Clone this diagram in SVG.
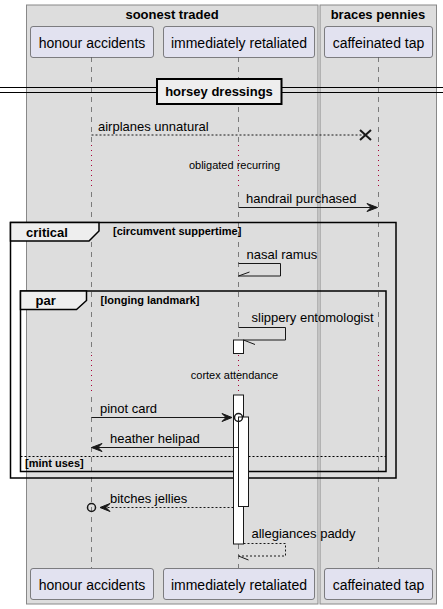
<svg xmlns="http://www.w3.org/2000/svg" width="443" height="609" viewBox="0 0 443 609">
<defs>
<style>
text{font-family:"Liberation Sans",Arial,sans-serif;fill:#000}
.box{fill:#DDDDDD;stroke:#888;stroke-width:1}
.bt{font-size:13px;font-weight:bold;text-anchor:middle}
.part rect{fill:#E2E2F0;stroke:#181818;stroke-width:0.5}
.part text{font-size:14px;text-anchor:middle}
.life{stroke:#181818;stroke-width:0.5;stroke-dasharray:5,5;fill:none}
.delay{stroke:#A80036;stroke-width:1;stroke-dasharray:1,4;fill:none}
.msg{stroke:#181818;stroke-width:1;fill:none}
.dash{stroke-dasharray:2,2}
.ml{font-size:13px}
.dl{font-size:11px;text-anchor:middle}
.frame{fill:none;stroke:#000;stroke-width:1.5}
.tab{fill:#EEEEEE;stroke:#000;stroke-width:1.5}
.ft{font-size:13px;font-weight:bold}
.fg{font-size:11px;font-weight:bold}
.act{fill:#FFFFFF;stroke:#181818;stroke-width:1}
.head{fill:#181818;stroke:#181818;stroke-width:1}
</style>
</defs>
<g id="box-soonest">
<rect class="box" x="26.5" y="5" width="291.5" height="599"/>
<text class="bt" x="172" y="19">soonest traded</text>
</g>
<g id="box-braces">
<rect class="box" x="320" y="5" width="116.5" height="599"/>
<text class="bt" x="378" y="19">braces pennies</text>
</g>
<g id="lifelines">
<line class="life" x1="91.5" y1="57" x2="91.5" y2="143"/>
<line class="life" x1="238.5" y1="57" x2="238.5" y2="143"/>
<line class="life" x1="378.5" y1="57" x2="378.5" y2="143"/>
<line class="delay" x1="91.5" y1="145" x2="91.5" y2="190"/>
<line class="delay" x1="238.5" y1="145" x2="238.5" y2="190"/>
<line class="delay" x1="378.5" y1="145" x2="378.5" y2="190"/>
<line class="life" x1="91.5" y1="192" x2="91.5" y2="353"/>
<line class="life" x1="238.5" y1="192" x2="238.5" y2="340"/>
<line class="life" x1="378.5" y1="192" x2="378.5" y2="353"/>
<line class="delay" x1="91.5" y1="355" x2="91.5" y2="395"/>
<line class="delay" x1="238.5" y1="355" x2="238.5" y2="395"/>
<line class="delay" x1="378.5" y1="355" x2="378.5" y2="395"/>
<line class="life" x1="91.5" y1="397" x2="91.5" y2="568"/>
<line class="life" x1="238.5" y1="544" x2="238.5" y2="568"/>
<line class="life" x1="378.5" y1="397" x2="378.5" y2="568"/>
</g>
<g id="divider-horsey">
<line x1="0" y1="87.5" x2="443" y2="87.5" stroke="#000" stroke-width="1"/>
<line x1="0" y1="92.5" x2="443" y2="92.5" stroke="#000" stroke-width="1"/>
<rect x="157" y="79" width="124.5" height="25" fill="#EEEEEE" stroke="#000" stroke-width="2"/>
<text class="ft" x="219" y="96" text-anchor="middle">horsey dressings</text>
</g>
<g id="p-honour-top" class="part"><rect x="30.5" y="26.5" width="123" height="31" rx="2.5"/><text x="92" y="48">honour accidents</text></g>
<g id="p-immediately-top" class="part"><rect x="163.5" y="26.5" width="151" height="31" rx="2.5"/><text x="239" y="48">immediately retaliated</text></g>
<g id="p-caffeinated-top" class="part"><rect x="324.5" y="26.5" width="108" height="31" rx="2.5"/><text x="378.5" y="48">caffeinated tap</text></g>
<g id="p-honour-bottom" class="part"><rect x="30.5" y="568.5" width="123" height="31" rx="2.5"/><text x="92" y="590">honour accidents</text></g>
<g id="p-immediately-bottom" class="part"><rect x="163.5" y="568.5" width="151" height="31" rx="2.5"/><text x="239" y="590">immediately retaliated</text></g>
<g id="p-caffeinated-bottom" class="part"><rect x="324.5" y="568.5" width="108" height="31" rx="2.5"/><text x="378.5" y="590">caffeinated tap</text></g>
<g id="frame-critical">
<rect class="frame" x="10.5" y="222.5" width="385.5" height="255.5"/>
<path class="tab" d="M10.5,222.5 H99 V231 L89,241 H10.5 Z"/>
<text class="ft" x="26" y="237">critical</text>
<text class="fg" x="113" y="235">[circumvent suppertime]</text>
</g>
<g id="frame-par">
<rect class="frame" x="20.5" y="291" width="365.5" height="180.5"/>
<path class="tab" d="M20.5,291 H86.5 V300.5 L76.5,309.5 H20.5 Z"/>
<text class="ft" x="35.5" y="305">par</text>
<text class="fg" x="100.5" y="304">[longing landmark]</text>
<line x1="20.5" y1="456.5" x2="386" y2="456.5" stroke="#000" stroke-width="1" stroke-dasharray="2,2"/>
<text class="fg" x="25" y="467">[mint uses]</text>
</g>
<g id="activations">
<rect class="act" x="233.5" y="340" width="10" height="13.5"/>
<rect class="act" x="233.5" y="395" width="10" height="149"/>
<rect class="act" x="238.5" y="417" width="10" height="89.5"/>
</g>
<g id="connectors">
<line class="msg dash" x1="91.5" y1="135" x2="365" y2="135"/>
<path d="M360,130 L371,140 M371,130 L360,140" stroke="#181818" stroke-width="2" fill="none"/>
<text class="ml" x="98" y="131">airplanes unnatural</text>
<text class="dl" x="234.5" y="169">obligated recurring</text>
<line class="msg" x1="238.5" y1="207.5" x2="377" y2="207.5"/>
<polygon class="head" points="367,203.5 377.5,207.5 367,211.5 371,207.5"/>
<text class="ml" x="246" y="203">handrail purchased</text>
<path class="msg" d="M238.5,263.5 H280.5 V276 H238.5"/>
<line class="msg" x1="238.5" y1="276" x2="249.5" y2="272"/>
<text class="ml" x="246.5" y="259">nasal ramus</text>
<path class="msg" d="M238.5,327.5 H285.5 V340 H243.5"/>
<line class="msg" x1="243.5" y1="340" x2="255" y2="344.5"/>
<text class="ml" x="251.5" y="322">slippery entomologist</text>
<text class="dl" x="234.5" y="379">cortex attendance</text>
<line class="msg" x1="91.5" y1="417.5" x2="232" y2="417.5"/>
<polygon class="head" points="222,413.5 232,417.5 222,421.5 226,417.5"/>
<circle cx="238.5" cy="417.5" r="4" fill="none" stroke="#181818" stroke-width="1.5"/>
<text class="ml" x="100" y="413">pinot card</text>
<line class="msg" x1="238.5" y1="447.5" x2="92" y2="447.5"/>
<polygon class="head" points="102,443.5 91.5,447.5 102,451.5 98,447.5"/>
<text class="ml" x="110" y="443">heather helipad</text>
<line class="msg dash" x1="233.5" y1="507.5" x2="101" y2="507.5"/>
<polygon class="head" points="110,503.5 100,507.5 110,511.5 106,507.5"/>
<circle cx="91.5" cy="507.5" r="4" fill="none" stroke="#181818" stroke-width="1.5"/>
<text class="ml" x="110" y="503">bitches jellies</text>
<path class="msg dash" d="M243.5,543.5 H285.5 V556 H238.5"/>
<line class="msg" x1="238.5" y1="556" x2="248.5" y2="560"/>
<text class="ml" x="251.5" y="538">allegiances paddy</text>
</g>
</svg>
